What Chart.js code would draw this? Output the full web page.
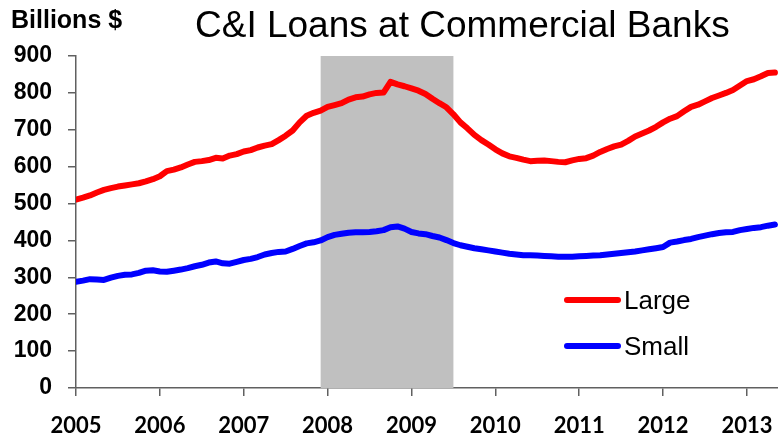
<!DOCTYPE html>
<html>
<head>
<meta charset="utf-8">
<script src="https://cdn.jsdelivr.net/npm/chart.js@4.4.0/dist/chart.umd.min.js"></script>
<style>
  html, body { margin: 0; padding: 0; background: #fff; }
</style>
</head>
<body>
<canvas id="loans-chart" width="778" height="436"></canvas>
<script>
// Monthly values, Jan 2005 .. May 2013 (billions of dollars)
const startYear = 2005;
const endYear = 2013.37;
const largeBanks = [
    511, 516, 522, 530, 537, 542, 546, 549, 552, 555, 560, 566,
    574, 588, 592, 598, 606, 613, 615, 618, 624, 622, 630, 634,
    641, 645, 652, 657, 661, 672, 684, 698, 720, 738, 746, 752,
    762, 767, 772, 782, 788, 790, 796, 800, 801, 830, 823, 818,
    812, 806, 797, 784, 772, 761, 742, 720, 704, 686, 672, 660,
    647, 636, 628, 624, 619, 615, 616, 617, 615, 613, 612, 617,
    621, 623, 630, 640, 648, 655, 660, 670, 682, 690, 698, 708,
    720, 730, 737, 750, 762, 768, 777, 786, 793, 800, 808, 820,
    832, 837, 845, 854, 855
];
const smallBanks = [
    288, 291, 295, 294, 293, 299, 304, 307, 308, 312, 318, 319,
    316, 315, 318, 321, 325, 330, 334, 340, 343, 338, 337, 342,
    347, 350, 355, 362, 366, 369, 370, 377, 385, 392, 395, 400,
    409, 415, 418, 421, 422, 422, 423, 425, 428, 436, 438, 432,
    423, 419, 417, 412, 408, 401, 393, 387, 383, 379, 376, 373,
    370, 367, 364, 362, 360, 360, 359, 358, 357, 356, 356, 356,
    357, 358, 359, 360, 362, 364, 366, 368, 370, 373, 376, 379,
    382, 394, 397, 401, 404, 409, 413, 417, 420, 422, 423, 428,
    431, 434, 436, 440, 443
];
const seriesNames = ['Large', 'Small'];
const seriesColors = ['#ff0000', '#0000ff'];
const recession = [2007.917, 2009.5]; // Dec 2007 - Jun 2009
const titleText = 'C&I Loans at Commercial Banks';
const unitText = 'Billions $';

const toPoints = vals => vals.map((v, i) => ({ x: startYear + i / 12, y: v }));

// grey band for the recession, behind the lines
const recessionBand = {
    id: 'recessionBand',
    beforeDatasetsDraw(chart) {
        const { ctx, scales: { x, y } } = chart;
        const x0 = x.getPixelForValue(recession[0]);
        const x1 = x.getPixelForValue(recession[1]);
        const top = y.getPixelForValue(900);
        const bottom = y.getPixelForValue(0);
        ctx.save();
        ctx.fillStyle = '#c0c0c0';
        ctx.fillRect(x0, top, x1 - x0, bottom - top);
        ctx.restore();
    }
};

// title, unit label and the in-plot legend
const labelsPlugin = {
    id: 'labels',
    afterDraw(chart) {
        const ctx = chart.ctx;
        ctx.save();
        ctx.fillStyle = '#000';
        ctx.textBaseline = 'alphabetic';
        ctx.font = '37px "Liberation Sans", Arial, sans-serif';
        ctx.textAlign = 'left';
        ctx.fillText(titleText, 195, 37);
        ctx.font = 'bold 25px "Liberation Sans", Arial, sans-serif';
        ctx.fillText(unitText, 11, 28);

        ctx.font = '26px "Liberation Sans", Arial, sans-serif';
        ctx.textBaseline = 'middle';
        const rows = [300, 346];
        chart.data.datasets.forEach((ds, i) => {
            ctx.strokeStyle = ds.borderColor;
            ctx.lineWidth = 6;
            ctx.lineCap = 'round';
            ctx.beginPath();
            ctx.moveTo(567, rows[i]);
            ctx.lineTo(618, rows[i]);
            ctx.stroke();
            ctx.fillText(ds.label, 624, rows[i] + 2);
        });
        ctx.restore();
    }
};

const ctx = document.getElementById('loans-chart').getContext('2d');

const loansChart = new Chart(ctx, {
    type: 'line',
    data: {
        datasets: [
            { label: seriesNames[0], data: toPoints(largeBanks), borderColor: seriesColors[0] },
            { label: seriesNames[1], data: toPoints(smallBanks), borderColor: seriesColors[1] }
        ]
    },
    options: {
        responsive: false,
        animation: false,
        devicePixelRatio: 1,
        layout: { padding: { top: 56, left: 0, right: 0, bottom: 0 } },
        elements: {
            line: { borderWidth: 6, tension: 0, borderCapStyle: 'round', borderJoinStyle: 'round' },
            point: { radius: 0 }
        },
        plugins: {
            legend: { display: false },
            title: { display: false },
            tooltip: { enabled: false }
        },
        scales: {
            x: {
                type: 'linear',
                min: startYear,
                max: endYear,
                afterBuildTicks: s => { s.ticks = s.ticks.filter(t => Number.isInteger(t.value)); },
                afterFit: s => { s.height = 48; s.paddingLeft = 0; s.paddingRight = 0; },
                ticks: {
                    stepSize: 1,
                    includeBounds: false,
                    autoSkip: false,
                    maxRotation: 0,
                    padding: 17,
                    color: '#000',
                    font: { family: 'Lato', size: 22, weight: 'bold' },
                    callback: v => String(v)
                },
                grid: { drawOnChartArea: false, tickLength: 8, color: '#606060', lineWidth: 1.5 },
                border: { color: '#606060', width: 1.5 }
            },
            y: {
                min: 0,
                max: 900,
                afterFit: s => { s.width = 76; },
                ticks: {
                    stepSize: 100,
                    padding: 16,
                    color: '#000',
                    font: { family: '"Liberation Sans"', size: 23, weight: 'bold' }
                },
                grid: { drawOnChartArea: false, tickLength: 8, color: '#606060', lineWidth: 1.5 },
                border: { color: '#606060', width: 1.5 }
            }
        }
    },
    plugins: [recessionBand, labelsPlugin]
});
</script>
</body>
</html>
